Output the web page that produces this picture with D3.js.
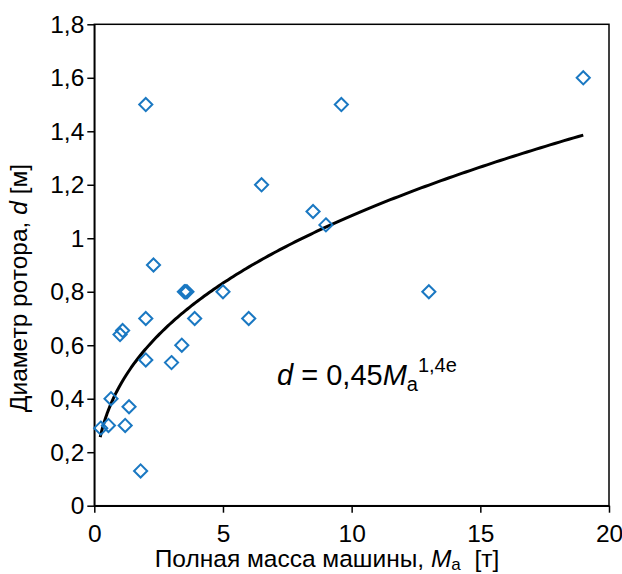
<!DOCTYPE html>
<html>
<head>
<meta charset="utf-8">
<script src="https://cdn.jsdelivr.net/npm/d3@7"></script>
<style>
  html, body { margin: 0; padding: 0; background: #fff; }
  svg { display: block; font-family: Arial, "Liberation Sans", sans-serif; }
</style>
</head>
<body>
<svg id="chart" width="622" height="574"></svg>
<script>
// Total machine mass, t
const massT = [19, 2, 9.6, 6.5, 8.5, 9, 2.3, 3.5, 3.6, 3.55, 5, 13, 6, 2, 3.9,
               1.0, 1.1, 3.4, 2, 3, 0.65, 1.35, 0.25, 0.55, 1.2, 1.8];
// Rotor diameter, m
const diamM = [1.6, 1.5, 1.5, 1.2, 1.1, 1.05, 0.9, 0.8, 0.8, 0.8, 0.8, 0.8, 0.7, 0.7, 0.7,
               0.64, 0.655, 0.6, 0.545, 0.535, 0.4, 0.37, 0.29, 0.3, 0.3, 0.13];

const xTicks = [0, 5, 10, 15, 20];
const yTicks = [0, 0.2, 0.4, 0.6, 0.8, 1, 1.2, 1.4, 1.6, 1.8];

// Power trend line d = a * M^b
const trendCoef = 0.45;
const trendExp = 0.382;
const trendRange = [0.23, 19];

const svg = d3.select("#chart");
const plotL = 94.3, plotR = 609, plotT = 24.3, plotB = 505.7;

const x = d3.scaleLinear().domain([0, 20]).range([plotL, plotR]);
const y = d3.scaleLinear().domain([0, 1.8]).range([plotB, plotT]);

const fmt = v => String(v).replace(".", ",");

// frame
svg.append("rect")
  .attr("x", plotL).attr("y", plotT)
  .attr("width", plotR - plotL).attr("height", plotB - plotT)
  .attr("fill", "none").attr("stroke", "#000").attr("stroke-width", 1.5);

const xAxis = svg.append("g")
  .attr("transform", `translate(0,${plotB})`)
  .call(d3.axisBottom(x).tickValues(xTicks).tickFormat(fmt).tickSize(7).tickSizeOuter(0));
const yAxis = svg.append("g")
  .attr("transform", `translate(${plotL},0)`)
  .call(d3.axisLeft(y).tickValues(yTicks).tickFormat(fmt).tickSize(7).tickSizeOuter(0));

[xAxis, yAxis].forEach(g => {
  g.select(".domain").attr("stroke", "#000").attr("stroke-width", 1.5);
  g.selectAll(".tick line").attr("stroke", "#000").attr("stroke-width", 1.5);
  g.selectAll(".tick text")
    .attr("fill", "#000")
    .style("font-family", "Arial, 'Liberation Sans', sans-serif")
    .style("font-size", "24.5px");
});
xAxis.selectAll(".tick text").attr("dy", "0.71em").attr("y", 19);
yAxis.selectAll(".tick text").attr("x", -10);

// trend curve
const curveM = d3.range(0, 201).map(i => trendRange[0] + (trendRange[1] - trendRange[0]) * Math.pow(i / 200, 2));
svg.append("path")
  .datum(curveM)
  .attr("fill", "none")
  .attr("stroke", "#000")
  .attr("stroke-width", 3)
  .attr("d", d3.line().x(m => x(m)).y(m => y(trendCoef * Math.pow(m, trendExp))));

// data markers
const diamond = d3.symbol().type(d3.symbolDiamond2).size(110);
svg.append("g")
  .selectAll("path")
  .data(massT.map((m, i) => [m, diamM[i]]))
  .join("path")
  .attr("transform", d => `translate(${x(d[0])},${y(d[1])})`)
  .attr("d", diamond)
  .attr("fill", "none")
  .attr("stroke", "#1a78c2")
  .attr("stroke-width", 2);

// equation label
const eq = svg.append("text")
  .attr("x", 277).attr("y", 385)
  .style("font-size", "29px").attr("fill", "#000");
eq.append("tspan").style("font-style", "italic").text("d");
eq.append("tspan").text(" = 0,45");
eq.append("tspan").style("font-style", "italic").text("M");
eq.append("tspan").attr("dy", 6).style("font-size", "20px").text("a");
eq.append("tspan").attr("dy", -19).style("font-size", "20px").text("1,4e");

// axis titles
const xt = svg.append("text")
  .attr("x", 327).attr("y", 567)
  .attr("text-anchor", "middle")
  .style("white-space", "pre")
  .style("font-size", "24.5px").attr("fill", "#000");
xt.append("tspan").text("Полная масса машины, ");
xt.append("tspan").style("font-style", "italic").text("M");
xt.append("tspan").attr("dy", 3).style("font-size", "17px").text("a");
xt.append("tspan").attr("dy", -3).text("  [т]");

const yt = svg.append("text")
  .attr("transform", `translate(27,288) rotate(-90)`)
  .attr("text-anchor", "middle")
  .style("font-size", "24.5px").attr("fill", "#000");
yt.append("tspan").text("Диаметр ротора, ");
yt.append("tspan").style("font-style", "italic").text("d");
yt.append("tspan").text(" [м]");
</script>
</body>
</html>
